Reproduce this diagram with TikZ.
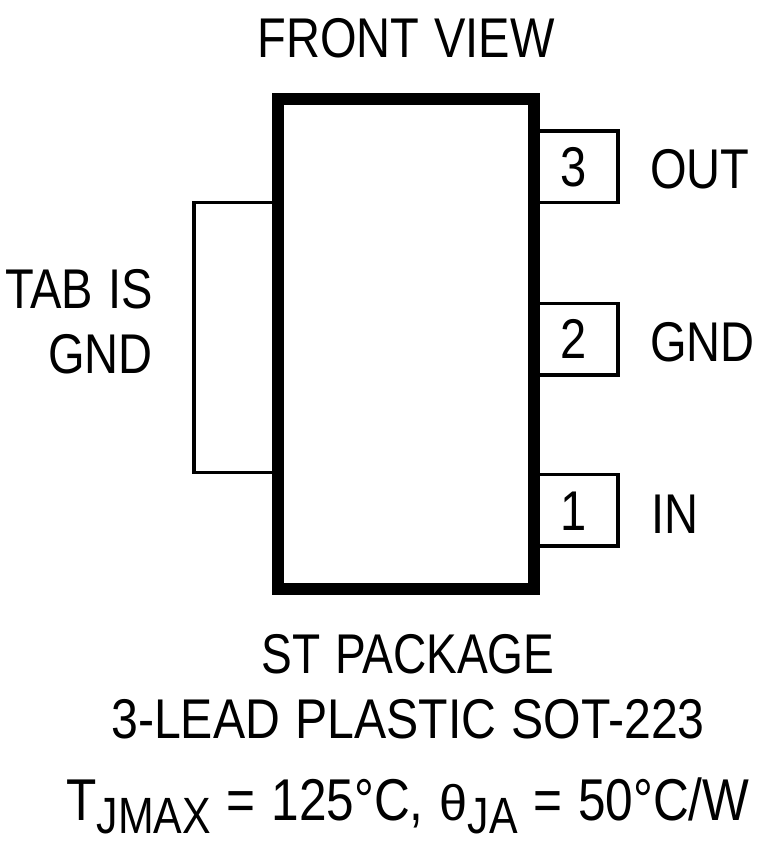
\documentclass[tikz,border=0pt]{standalone}
\usepackage{fontspec}
\setmainfont[FakeStretch=0.84,WordSpace=1.15]{Liberation Sans}
\usetikzlibrary{positioning}
\newcommand{\subtext}[1]{\raisebox{-13pt}{\fontsize{51}{51}\selectfont #1}}
\tikzset{
    leadbox/.style={rectangle, draw, line width=3.5pt, fill=white, minimum width=85pt, minimum height=71.5pt, inner sep=0pt},
    tabbox/.style={rectangle, draw, line width=3.5pt, fill=white, minimum width=90pt, minimum height=270pt, inner sep=0pt},
    bodybox/.style={rectangle, draw, line width=11.5pt, fill=white, minimum width=256pt, minimum height=490pt, inner sep=0pt},
    lbl/.style={inner sep=0pt, font=\fontsize{56}{56}\selectfont, anchor=base},
    lblleft/.style={lbl, anchor=base east},
    lblright/.style={lbl, anchor=base west},
}
\begin{document}
\begin{tikzpicture}[x=1pt, y=-1pt]
    \useasboundingbox (0,0) rectangle (760,850);

    \node (tab) at (239,337.5) [tabbox] {};
    \foreach \n/\y in {3/167, 2/339, 1/510} {
        \node (lead\n) at (575.3,\y) [leadbox] {};
    }
    \node (body) at (406,344) [bodybox] {};

    \foreach \n/\y in {3/187, 2/358, 1/530} {
        \node (num\n) at (574,\y) [lbl] {\n};
    }
    \node (out) at (650,189) [lblright] {OUT};
    \node (gnd) at (650,361) [lblright] {GND};
    \node (in) at (651,533) [lblright] {IN};

    \node (front) at (406,58) [lbl] {FRONT VIEW};
    \node (tabis) at (153,308) [lblleft] {TAB IS};
    \node (tabgnd) at (153,373) [lblleft] {GND};
    \node (st) at (408,673) [lbl, xscale=0.98] {ST PACKAGE};
    \node (pkg) at (408,738) [lbl, xscale=1.025] {3-LEAD PLASTIC SOT-223};
    \node (tj) at (408,820) [lbl, font=\fontsize{59}{59}\selectfont] {T\subtext{JMAX} = 125°C, {\fontsize{50}{50}\selectfont\scalebox{1.2}[1]{θ}}\subtext{JA} = 50°C/W};
\end{tikzpicture}
\end{document}
